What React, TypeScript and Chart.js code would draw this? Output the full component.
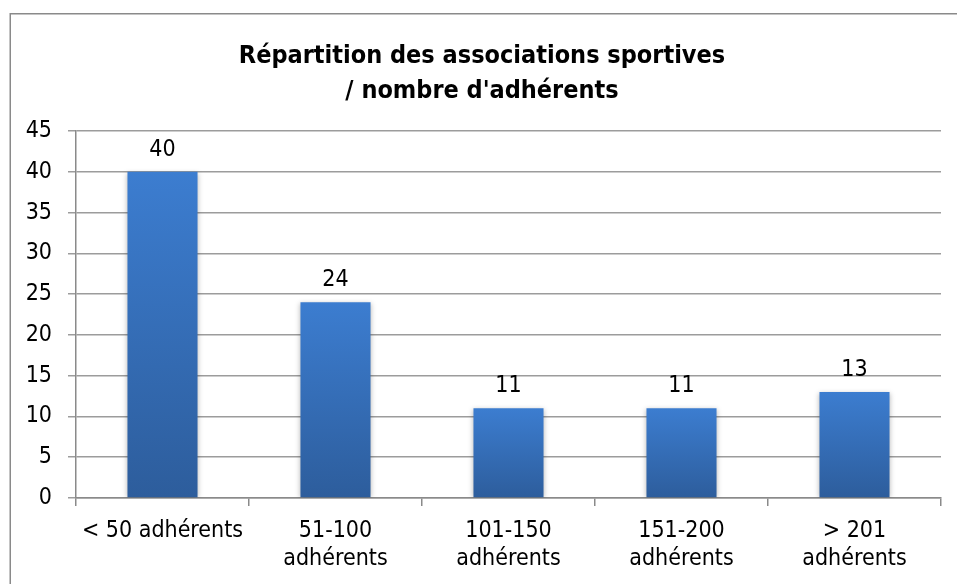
import React, { useEffect, useRef } from "react";
import { Chart, registerables } from "chart.js";

Chart.register(...registerables);

const categories: (string | string[])[] = [
  "< 50 adhérents",
  ["51-100", "adhérents"],
  ["101-150", "adhérents"],
  ["151-200", "adhérents"],
  ["> 201", "adhérents"],
];
const values = [40, 24, 11, 11, 13];
const titleLines = ["Répartition des associations sportives", "/ nombre d'adhérents"];
const yMin = 0;
const yMax = 45;
const yStep = 5;

const FONT = "Tahoma, 'DejaVu Sans Condensed', 'DejaVu Sans', sans-serif";

const framePlugin = {
  id: "frame",
  beforeDraw(chart: any) {
    const ctx = chart.ctx;
    ctx.save();
    ctx.fillStyle = "#ffffff";
    ctx.fillRect(0, 0, chart.width, chart.height);
    ctx.strokeStyle = "#8a8a8a";
    ctx.lineWidth = 1.5;
    ctx.strokeRect(10.25, 13.75, 2000, 2000);
    ctx.fillStyle = "#000000";
    ctx.font = `bold 25px ${FONT}`;
    ctx.textAlign = "center";
    ctx.textBaseline = "alphabetic";
    ctx.fillText(titleLines[0], 482, 63);
    ctx.fillText(titleLines[1], 482, 98);
    ctx.restore();
  },
};

const shadowPlugin = {
  id: "barShadow",
  beforeDatasetsDraw(chart: any) {
    const ctx = chart.ctx;
    ctx.save();
    ctx.shadowColor = "rgba(0,0,0,0.28)";
    ctx.shadowBlur = 5;
    ctx.shadowOffsetX = 0;
    ctx.shadowOffsetY = 1;
  },
  afterDatasetsDraw(chart: any) {
    chart.ctx.restore();
  },
};

const labelPlugin = {
  id: "valueLabels",
  afterDatasetsDraw(chart: any) {
    const ctx = chart.ctx;
    const meta = chart.getDatasetMeta(0);
    ctx.save();
    ctx.fillStyle = "#000000";
    ctx.font = `23px ${FONT}`;
    ctx.textAlign = "center";
    ctx.textBaseline = "alphabetic";
    meta.data.forEach((el: any, i: number) => {
      ctx.fillText(String(values[i]), el.x, el.y - 16);
    });
    ctx.restore();
  },
};

export default function App() {
  const ref = useRef<HTMLCanvasElement>(null);
  useEffect(() => {
    if (!ref.current) return;
    const chart = new Chart(ref.current, {
      type: "bar",
      data: {
        labels: categories,
        datasets: [
          {
            data: values,
            backgroundColor: (c: any) => {
              const ch = c.chart;
              const ys = ch.scales && ch.scales.y;
              if (!ys || c.type !== "data") return "#3a78c8";
              const top = ys.getPixelForValue(c.raw);
              const bot = ys.getPixelForValue(0);
              if (!isFinite(top) || !isFinite(bot) || top === bot) return "#3a78c8";
              const g = ch.ctx.createLinearGradient(0, top, 0, bot);
              g.addColorStop(0, "#3c7dd0");
              g.addColorStop(1, "#2d5d9c");
              return g;
            },
            borderWidth: 0,
            categoryPercentage: 0.81,
            barPercentage: 0.5,
          },
        ],
      },
      options: {
        responsive: false,
        animation: false,
        devicePixelRatio: 1,
        layout: { padding: { top: 131, right: 16, left: 0, bottom: 0 } },
        plugins: {
          legend: { display: false },
          title: { display: false },
          tooltip: { enabled: false },
        },
        scales: {
          x: {
            offset: true,
            grid: {
              display: true,
              offset: true,
              drawOnChartArea: false,
              drawTicks: true,
              tickLength: 8,
              color: "#8a8a8a",
              lineWidth: 1.5,
            },
            border: { display: true, color: "#8a8a8a", width: 1.5 },
            ticks: {
              color: "#000000",
              font: { family: FONT, size: 23, lineHeight: 1.22 },
              padding: 11,
              maxRotation: 0,
              autoSkip: false,
            },
            afterFit: (s: any) => {
              s.height = 86;
            },
          },
          y: {
            min: yMin,
            max: yMax,
            grid: {
              color: "#9c9c9c",
              lineWidth: 1.5,
              drawTicks: true,
              tickLength: 8,
            },
            border: { display: true, color: "#8a8a8a", width: 1.5 },
            ticks: {
              stepSize: yStep,
              color: "#000000",
              font: { family: FONT, size: 23 },
              padding: 16,
            },
            afterFit: (s: any) => {
              s.width = 76;
            },
          },
        },
      },
      plugins: [framePlugin, shadowPlugin, labelPlugin],
    });
    return () => chart.destroy();
  }, []);
  return (
    <div style={{ position: "fixed", left: 0, top: 0, width: 957, height: 584 }}>
      <canvas ref={ref} width={957} height={584} />
    </div>
  );
}
